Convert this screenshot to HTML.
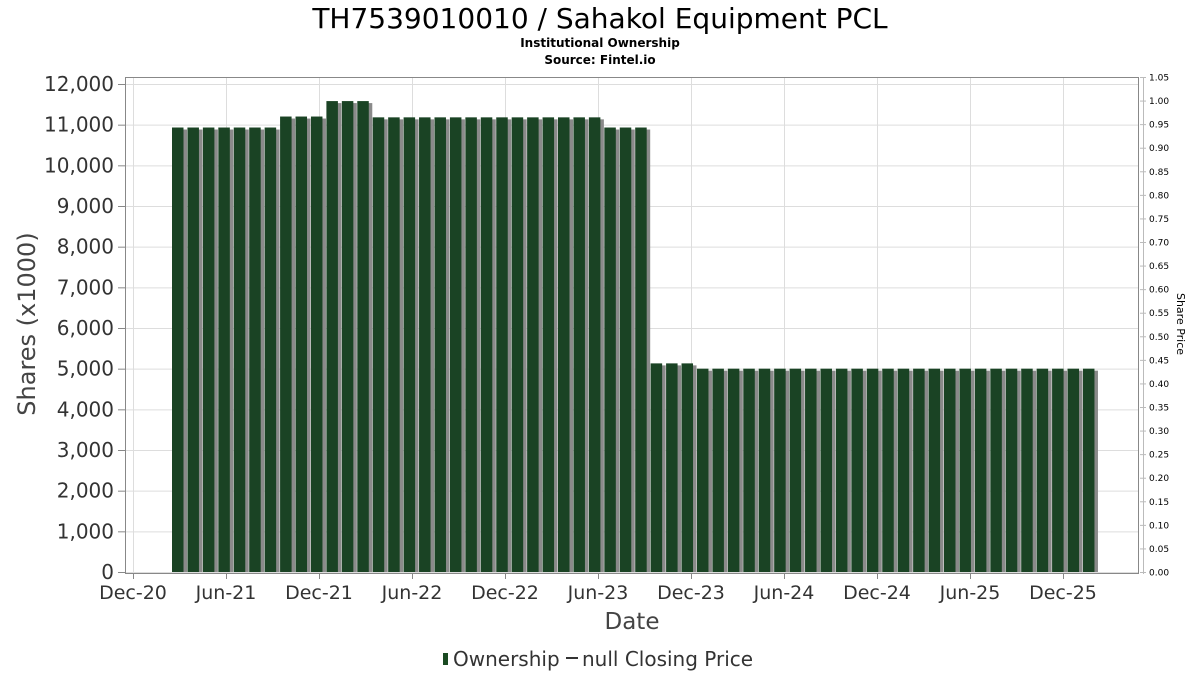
<!DOCTYPE html>
<html><head><meta charset="utf-8"><style>
body{margin:0;background:#fff;}
svg{display:block;font-family:"DejaVu Sans","Liberation Sans",sans-serif;}
</style></head><body>
<svg id="chart" width="1200" height="675" viewBox="0 0 1200 675" xmlns="http://www.w3.org/2000/svg">
<text x="600" y="28" text-anchor="middle" font-size="28" fill="#000">TH7539010010 / Sahakol Equipment PCL</text>
<text x="600" y="47" text-anchor="middle" font-size="12" font-weight="bold" fill="#000">Institutional Ownership</text>
<text x="600" y="64" text-anchor="middle" font-size="12" font-weight="bold" fill="#000">Source: Fintel.io</text>
<g id="grid"></g>
<g id="bars"></g>
<rect x="125.5" y="77.5" width="1013" height="496" fill="none" stroke="#888"/>
<g id="yaxis"></g>
<g id="y2axis"></g>
<g id="xaxis"></g>
<text transform="translate(35,324) rotate(-90)" text-anchor="middle" font-size="24" fill="#444">Shares (x1000)</text>
<text transform="translate(1177,324) rotate(90)" text-anchor="middle" font-size="11" fill="#000">Share Price</text>
<text x="632" y="629" text-anchor="middle" font-size="23" fill="#444">Date</text>
<g>
<rect x="443" y="653" width="5" height="12" fill="#1a4a22"/>
<text x="453" y="666" font-size="20" fill="#333">Ownership</text>
<line x1="566" y1="658" x2="578" y2="658" stroke="#333" stroke-width="2"/>
<text x="582" y="666" font-size="20" fill="#333">null Closing Price</text>
</g>
</svg>
<script>
const values = [10930,10930,10930,10930,10930,10930,10930,11200,11200,11200,11580,11580,11580,
11180,11180,11180,11180,11180,11180,11180,11180,11180,11180,11180,11180,11180,11180,11180,
10930,10930,10930,5130,5130,5130,
5000,5000,5000,5000,5000,5000,5000,5000,5000,5000,5000,5000,5000,5000,5000,5000,5000,5000,5000,5000,5000,5000,5000,5000,5000,5000];
const yTicks = [0,1000,2000,3000,4000,5000,6000,7000,8000,9000,10000,11000,12000];
const y2Ticks = [0,0.05,0.10,0.15,0.20,0.25,0.30,0.35,0.40,0.45,0.50,0.55,0.60,0.65,0.70,0.75,0.80,0.85,0.90,0.95,1.00,1.05];
const xTickLabels = ["Dec-20","Jun-21","Dec-21","Jun-22","Dec-22","Jun-23","Dec-23","Jun-24","Dec-24","Jun-25","Dec-25"];
const xTickMonths = [0,6,12,18,24,30,36,42,48,54,60];

const NS="http://www.w3.org/2000/svg";
function mk(tag,attrs,parent,text){const e=document.createElementNS(NS,tag);for(const k in attrs)e.setAttribute(k,attrs[k]);if(text!==undefined)e.textContent=text;parent.appendChild(e);return e;}
const y=v=>572-v*(488/12000);
const y2=v=>572-v*(495/1.05);
const xm=m=>133+m*15.5;
const xb=i=>178+i*15.44;
const grid=document.getElementById('grid'),bars=document.getElementById('bars'),ya=document.getElementById('yaxis'),y2a=document.getElementById('y2axis'),xa=document.getElementById('xaxis');
yTicks.forEach(t=>{
  const g=mk('line',{x1:126,x2:1138,y1:y(t)+0.5,y2:y(t)+0.5,stroke:'#ddd'},grid);
  
  
  const tk=mk('line',{x1:118,x2:125,y1:y(t)+0.5,y2:y(t)+0.5,stroke:'#888'},ya);
  
  
  const l=mk('text',{x:114,y:y(t)+7,'text-anchor':'end','font-size':20,fill:'#333'},ya,t.toLocaleString('en-US'));
  
  
});
mk('line',{x1:1143.5,x2:1143.5,y1:77,y2:574,stroke:'#bbb'},y2a);
y2Ticks.forEach(t=>{
  const tk=mk('line',{x1:1140,x2:1146,y1:y2(t)+0.5,y2:y2(t)+0.5,stroke:'#bbb'},y2a);
  
  
  const l=mk('text',{x:1149,y:y2(t)+3.5,'font-size':9,fill:'#000'},y2a,t.toFixed(2));
  
  
});
xTickMonths.forEach((m,i)=>{
  const g=mk('line',{x1:Math.round(xm(m))+0.5,x2:Math.round(xm(m))+0.5,y1:78,y2:573,stroke:'#ddd'},grid);
  
  
  const tk=mk('line',{x1:Math.round(xm(m))+0.5,x2:Math.round(xm(m))+0.5,y1:574,y2:579,stroke:'#888'},xa);
  
  
  const l=mk('text',{x:xm(m),y:599,'text-anchor':'middle','font-size':19,fill:'#333'},xa,xTickLabels[i]);
  
  
});
values.forEach((v,i)=>{
  const cx=xb(i);
  const s=mk('rect',{x:cx-6+3,y:y(v)+2,width:12,height:572-y(v)-2,fill:'#8a8a8a'},bars);
  
  
  const b=mk('rect',{x:cx-6,y:y(v),width:11.5,height:572-y(v),fill:'#1a4324'},bars);
  
  
});
</script>
</body></html>
